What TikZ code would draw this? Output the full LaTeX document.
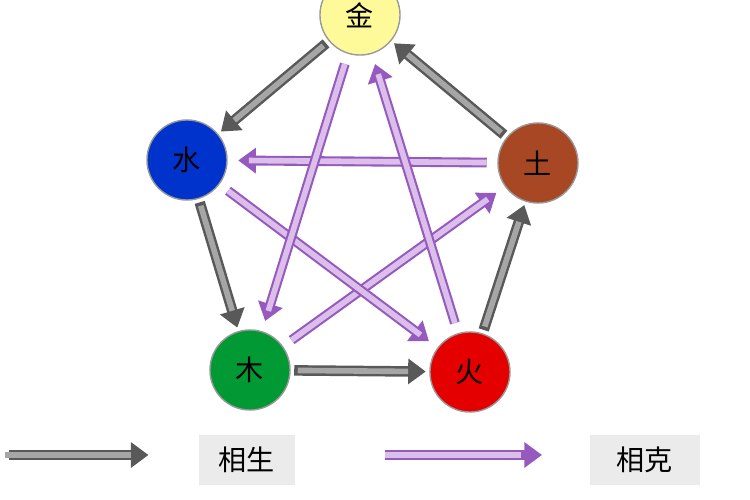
\documentclass[tikz,border=0pt]{standalone}
\usepackage{fontspec}
\setmainfont{Noto Sans CJK SC}
\usetikzlibrary{arrows.meta}
\definecolor{keout}{RGB}{150,90,190}
\definecolor{kein}{RGB}{220,190,235}
\tikzset{
        elem/.style = {circle,draw=black!40,line width=0.4pt,minimum size=0.8cm,inner sep=0pt,font=\fontsize{8}{9}\selectfont},
        sheng/.style = {draw=black!65,line width=3pt,-{Triangle[length=5pt,width=7pt]},shorten >=1pt,shorten <=1pt},
        shengin/.style = {draw=black!35,line width=1.6pt},
        ke/.style = {draw=keout,line width=2.8pt,-{Triangle[length=5pt,width=7pt]},shorten >=3pt,shorten <=3pt},
        keline/.style = {draw=kein,line width=1.6pt,shorten >=6pt,shorten <=3pt},
        legend/.style = {rectangle,fill=black!8,minimum width=0.95cm,minimum height=0.5cm,font=\fontsize{8}{9}\selectfont}
    }
\begin{document}
\begin{tikzpicture}[x=0.01cm,y=-0.01cm]
            \useasboundingbox (0,0) rectangle (750,500);
            \node[elem,fill=yellow!40] (jin) at (360,15) {金};
            \node[elem,fill=blue!75!cyan!80!black] (shui) at (187,160) {水};
            \node[elem,fill=brown!70!red!80!black] (tu) at (538,163) {土};
            \node[elem,fill=green!50!black!80!cyan] (mu) at (250,370) {木};
            \node[elem,fill=red!90!black] (huo) at (470,372) {火};

            % xiang ke
            \foreach \a/\b in {mu/tu,tu/shui,shui/huo,huo/jin,jin/mu}{
                \draw[ke] (\a) -- (\b);
                \draw[keline] (\a) -- (\b);
            }
            % xiang sheng
            \foreach \a/\b in {mu/huo,huo/tu,tu/jin,jin/shui,shui/mu}{
                \draw[sheng] (\a) -- (\b);
                \draw[shengin,shorten >=6pt,shorten <=2pt] (\a) -- (\b);
            }

            % legend
            \coordinate (s1) at (5,455);
            \coordinate (s2) at (152,455);
            \draw[sheng] (s1) -- (s2);
            \draw[shengin,shorten >=6pt] (s1) -- (s2);
            \node[legend] (lsheng) at (247,460) {相生};
            \coordinate (k1) at (385,455);
            \coordinate (k2) at (542,455);
            \draw[ke,shorten <=0pt,shorten >=0pt] (k1) -- (k2);
            \draw[keline,shorten <=0pt] (k1) -- (k2);
            \node[legend,minimum width=1.1cm] (lke) at (645,460) {相克};
        \end{tikzpicture}
\end{document}
